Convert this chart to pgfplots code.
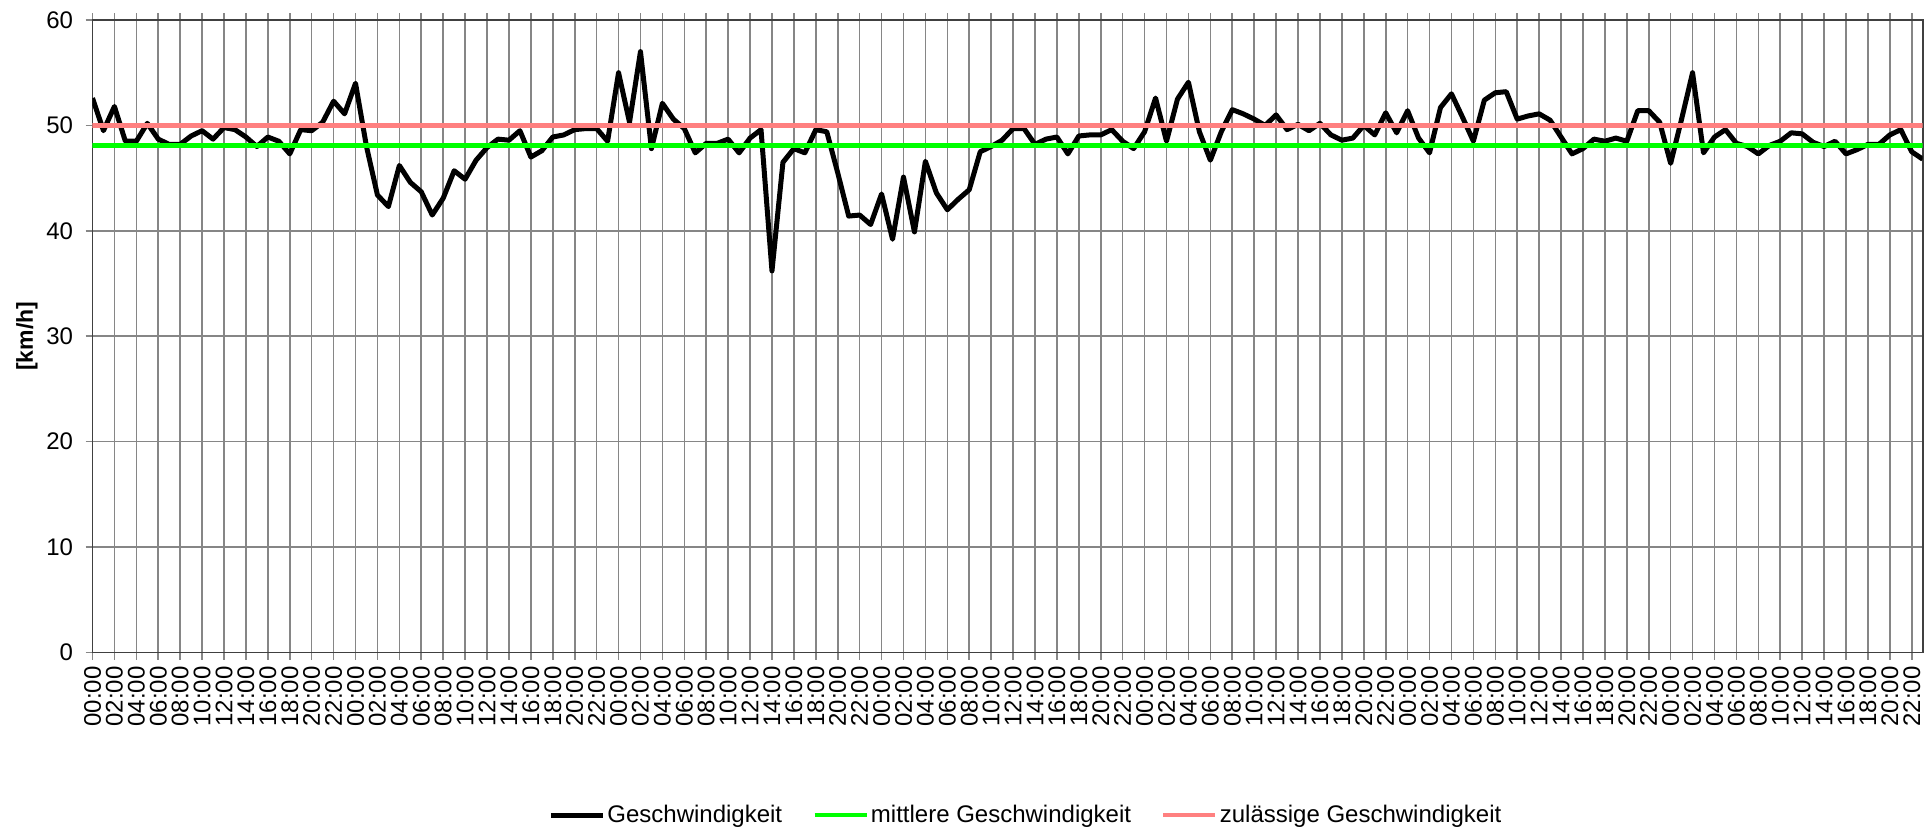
\documentclass[border=0pt]{standalone}
\usepackage{fontspec}
\setmainfont{Liberation Sans}
\usepackage{pgfplots}
\usepackage{pgfplotstable}
\pgfplotsset{compat=1.18}
\definecolor{gridgray}{HTML}{868686}
\definecolor{framegray}{HTML}{404040}
\definecolor{limitred}{HTML}{FF8080}
\definecolor{meangreen}{HTML}{00FF00}
\pgfplotstableread{
x y
0 52.6
1 49.5
2 51.8
3 48.5
4 48.5
5 50.2
6 48.7
7 48.2
8 48.2
9 49.0
10 49.5
11 48.7
12 49.8
13 49.6
14 48.9
15 48.0
16 48.9
17 48.5
18 47.3
19 49.6
20 49.5
21 50.3
22 52.3
23 51.1
24 54.0
25 48.0
26 43.4
27 42.3
28 46.2
29 44.6
30 43.7
31 41.5
32 43.1
33 45.7
34 44.9
35 46.7
36 47.9
37 48.7
38 48.6
39 49.5
40 47.0
41 47.6
42 48.9
43 49.1
44 49.6
45 49.7
46 49.7
47 48.5
48 55.0
49 50.3
50 57.0
51 47.8
52 52.1
53 50.6
54 49.7
55 47.4
56 48.3
57 48.3
58 48.7
59 47.4
60 48.8
61 49.6
62 36.2
63 46.5
64 47.8
65 47.4
66 49.6
67 49.4
68 45.5
69 41.4
70 41.5
71 40.6
72 43.5
73 39.2
74 45.1
75 39.9
76 46.6
77 43.6
78 42.0
79 43.0
80 43.9
81 47.5
82 48.0
83 48.6
84 49.7
85 49.7
86 48.2
87 48.7
88 48.9
89 47.3
90 49.0
91 49.1
92 49.1
93 49.6
94 48.5
95 47.8
96 49.4
97 52.6
98 48.5
99 52.5
100 54.1
101 49.4
102 46.7
103 49.4
104 51.5
105 51.1
106 50.6
107 50.0
108 51.0
109 49.6
110 50.1
111 49.5
112 50.2
113 49.1
114 48.6
115 48.8
116 50.0
117 49.1
118 51.2
119 49.3
120 51.4
121 48.8
122 47.4
123 51.7
124 53.0
125 50.8
126 48.5
127 52.4
128 53.1
129 53.2
130 50.6
131 50.9
132 51.1
133 50.5
134 48.9
135 47.3
136 47.8
137 48.7
138 48.5
139 48.8
140 48.5
141 51.4
142 51.4
143 50.3
144 46.4
145 50.6
146 55.0
147 47.4
148 48.9
149 49.6
150 48.3
151 48.0
152 47.3
153 48.1
154 48.5
155 49.3
156 49.2
157 48.4
158 48.0
159 48.5
160 47.3
161 47.7
162 48.2
163 48.2
164 49.1
165 49.6
166 47.5
167 46.8
}\speed
\begin{document}
\begin{tikzpicture}
\begin{axis}[
  scale only axis,
  width=915.1pt, height=316.25pt,
  xmin=0, xmax=167, ymin=0, ymax=60,
  xtick={0,2,...,166},
  ytick={0,10,...,60},
  xticklabel={\pgfmathtruncatemacro{\hh}{mod(round(\tick),24)}\ifnum\hh<10 0\fi\hh:00},
  /pgf/number format/assume math mode=true,
  tick label style={font=\fontsize{12}{12}\selectfont, text=black},
  x tick label style={rotate=90, anchor=east},
  y tick label style={xshift=-2.7pt},
  grid=major,
  major grid style={color=gridgray, line width=0.8pt},
  axis line style={color=framegray, line width=0.9pt},
  tick align=outside,
  major tick length=3.5pt,
  tick style={color=gridgray, line width=0.8pt},
  ylabel={[km/h]},
  ylabel style={at={(axis description cs:-0.0358,0.5)}, anchor=center, font=\bfseries\fontsize{11.5}{12}\selectfont},
  title={Geschwindigkeitsprofil},
  title style={at={(axis description cs:0.4751,1)}, anchor=base, yshift=12pt, font=\bfseries\fontsize{21.5}{22}\selectfont},
  legend columns=3,
  legend style={at={(axis description cs:0.51,-0.257)}, anchor=center, draw=none, fill=none,
    font=\fontsize{12}{13}\selectfont,
    /tikz/every even column/.append style={column sep=14pt},
    nodes={inner xsep=1pt}},
  legend image code/.code={\draw[#1] (0pt,0pt) -- (26pt,0pt);},
]
\addplot[black, line width=2.5pt, line join=round, mark=none] table[x=x,y=y] {\speed};
\addlegendentry{Geschwindigkeit}
\addplot[meangreen, line width=2.4pt, mark=none] coordinates {(0,48.1) (167,48.1)};
\addlegendentry{mittlere Geschwindigkeit}
\addplot[limitred, line width=2.4pt, mark=none] coordinates {(0,50) (167,50)};
\addlegendentry{zulässige Geschwindigkeit}
\end{axis}
\pgfresetboundingbox
\path[use as bounding box] (-46.25pt,-89.25pt) rectangle (915.75pt,326.25pt);
\end{tikzpicture}
\end{document}
